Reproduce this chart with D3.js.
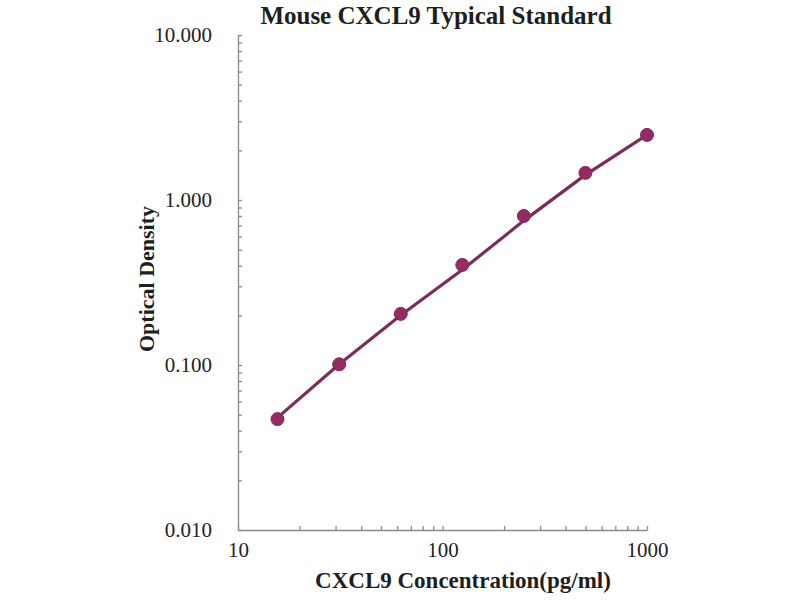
<!DOCTYPE html>
<html lang="en">
<head>
    <meta charset="UTF-8">
    <title>Mouse CXCL9 Typical Standard</title>
    <script src="https://d3js.org/d3.v7.min.js"></script>
    <style>
        body { margin: 0; background: #fff; }
        svg { display: block; font-family: "Liberation Serif", "Times New Roman", serif; }
        .axis path, .axis line { stroke: #8a8a8a; stroke-width: 1.3px; }
        .axis text { fill: #222; font-size: 21px; font-family: "Liberation Serif", serif; }
        .title { font-size: 25px; font-weight: bold; fill: #1e1e1e; }
        .axis-title { font-weight: bold; fill: #1e1e1e; }
    </style>
</head>
<body>
<svg width="800" height="600"></svg>
<script>
    // standard concentrations (pg/ml) and measured OD
    const concentration = [15.6, 31.25, 62.5, 125, 250, 500, 1000];
    const opticalDensity = [0.047, 0.101, 0.204, 0.404, 0.80, 1.46, 2.48];
    // trend line
    const fitDensity = [0.048, 0.101, 0.200, 0.378, 0.75, 1.42, 2.48];

    const xDecades = [10, 100, 1000];
    const yDecades = [0.01, 0.1, 1, 10];

    const svg = d3.select("svg");
    const plot = {left: 238, right: 647, top: 35, bottom: 530};

    const x = d3.scaleLog().domain([10, 1000]).range([plot.left, plot.right]);
    const y = d3.scaleLog().domain([0.01, 10]).range([plot.bottom, plot.top]);

    // minor ticks 1..9 in each decade
    const minor = (decades) => decades.slice(0, -1)
        .flatMap(d => d3.range(1, 10).map(k => +(d * k).toPrecision(3)))
        .concat(decades[decades.length - 1]);

    // y axis: ticks inside, labels separately
    svg.append("g")
        .attr("class", "axis")
        .attr("transform", `translate(${plot.left},0)`)
        .call(d3.axisLeft(y).tickValues(minor(yDecades)).tickSizeInner(-4).tickSizeOuter(0).tickFormat(""));
    svg.append("g")
        .attr("class", "axis")
        .attr("transform", `translate(${plot.left},0)`)
        .call(d3.axisLeft(y).tickValues(yDecades).tickSize(0).tickPadding(26).tickFormat(d3.format(".3f")))
        .call(g => g.select(".domain").remove());

    // x axis
    svg.append("g")
        .attr("class", "axis")
        .attr("transform", `translate(0,${plot.bottom})`)
        .call(d3.axisBottom(x).tickValues(minor(xDecades)).tickSizeInner(-4).tickSizeOuter(0).tickFormat(""));
    svg.append("g")
        .attr("class", "axis")
        .attr("transform", `translate(0,${plot.bottom})`)
        .call(d3.axisBottom(x).tickValues(xDecades).tickSize(0).tickPadding(12).tickFormat(d3.format("d")))
        .call(g => g.select(".domain").remove());

    // trend line
    const line = d3.line()
        .x(d => x(d[0]))
        .y(d => y(d[1]));
    svg.append("path")
        .datum(d3.zip(concentration, fitDensity))
        .attr("fill", "none")
        .attr("stroke", "#7b2c5c")
        .attr("stroke-width", 3.2)
        .attr("stroke-linejoin", "round")
        .attr("d", line);

    // data points
    svg.selectAll("circle.pt")
        .data(d3.zip(concentration, opticalDensity))
        .enter().append("circle")
        .attr("class", "pt")
        .attr("cx", d => x(d[0]))
        .attr("cy", d => y(d[1]))
        .attr("r", 6.5)
        .attr("fill", "#962a62")
        .attr("stroke", "#7b2c5c")
        .attr("stroke-width", 1);

    // titles
    svg.append("text")
        .attr("class", "title")
        .attr("x", 436).attr("y", 24)
        .attr("text-anchor", "middle")
        .text("Mouse CXCL9 Typical Standard");

    svg.append("text")
        .attr("class", "axis-title")
        .attr("x", 463).attr("y", 588)
        .attr("text-anchor", "middle")
        .style("font-size", "23px")
        .text("CXCL9 Concentration(pg/ml)");

    svg.append("text")
        .attr("class", "axis-title")
        .attr("transform", "translate(154,279) rotate(-90)")
        .attr("text-anchor", "middle")
        .style("font-size", "22px")
        .text("Optical Density");
</script>
</body>
</html>
